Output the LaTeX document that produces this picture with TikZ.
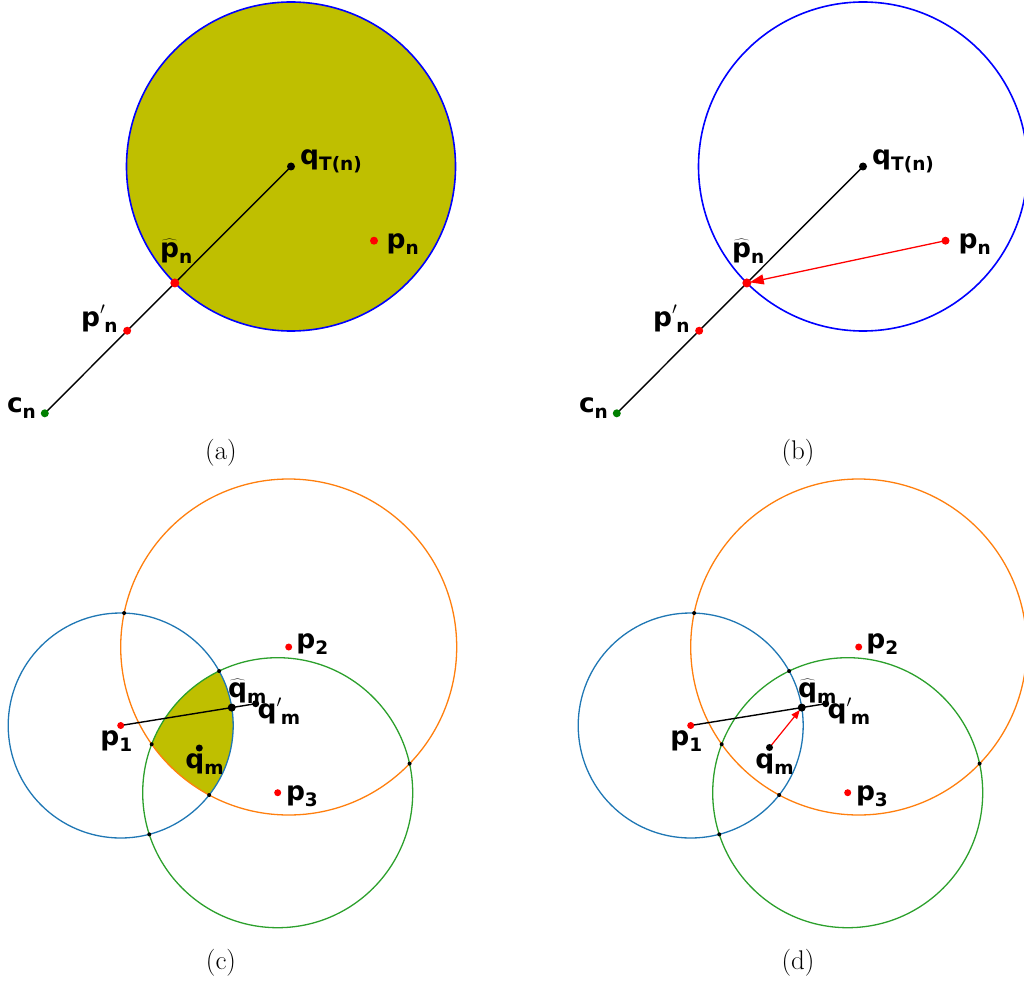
\documentclass[tikz,border=0pt]{standalone}
\usepackage{fontspec}
\newfontfamily\lbl{DejaVu Sans}
\usetikzlibrary{arrows.meta,calc,intersections}
\definecolor{olivey}{RGB}{191,191,0}
\definecolor{tabblue}{HTML}{1F77B4}
\definecolor{taborange}{HTML}{FF7F0E}
\definecolor{tabgreen}{HTML}{2CA02C}
\definecolor{dkgreen}{RGB}{0,128,0}
\newcommand{\lsub}[1]{\raisebox{-6pt}{\fontsize{18.5}{18.5}\selectfont #1}}
\newcommand{\lprime}{\raisebox{2pt}{$^{\prime}$}\kern-1pt}
\newcommand{\lhat}[1]{$\widehat{\mbox{#1}}$}
\tikzset{
  lab/.style={font={\lbl\bfseries\fontsize{26.5}{27}\selectfont}, inner sep=0pt, anchor=base west},
  captxt/.style={font={\fontsize{27}{32}\selectfont}, inner sep=0pt},
  ptdot/.style={circle, inner sep=0pt, minimum size=#1, draw=none},
  ptdot/.default=8pt,
  segline/.style={black, line width=1.4pt},
  tinydot/.style={circle, inner sep=0pt, minimum size=4pt, fill=black},
}
\begin{document}
\begin{tikzpicture}[x=1pt,y=-1pt]
\useasboundingbox (0,0) rectangle (1024,984);
% ---------- (a) ----------
\coordinate (qa) at (291,166.5);
\coordinate (ca) at (44.8,413.3);
\coordinate (hpa) at ($(qa)!164.5pt!(ca)$);
\coordinate (ppa) at ($(qa)!232pt!(ca)$);
\coordinate (pna) at (374,240.7);
\fill[olivey] (qa) circle[radius=164.5];
\draw[blue, line width=1.6pt] (qa) circle[radius=164.5];
\draw[segline] (ca) -- (qa);
\node[ptdot=8pt, fill=black] (qad) at (qa) {};
\node[ptdot=9pt, fill=red] (hpad) at (hpa) {};
\node[ptdot=8pt, fill=red] (ppad) at (ppa) {};
\node[ptdot=8pt, fill=red] (pnad) at (pna) {};
\node[ptdot=8pt, fill=dkgreen] (cad) at (ca) {};
\node[lab] (lqa) at (300,165) {q\lsub{T(n)}};
\node[lab] (lpna) at (386.5,248.5) {p\lsub{n}};
\node[lab] (lhpa) at (160,257.5) {\lhat{p}\lsub{n}};
\node[lab] (lppa) at (81,326) {p\lprime\lsub{n}};
\node[lab] (lca) at (6.8,412.5) {c\lsub{n}};
\node[captxt] (capa) at (221,453) {(a)};
% ---------- (b) ----------
\coordinate (qb) at (863,166.5);
\coordinate (cb) at (616.8,413.3);
\coordinate (hpb) at ($(qb)!164.5pt!(cb)$);
\coordinate (ppb) at ($(qb)!232pt!(cb)$);
\coordinate (pnb) at (945.5,240.7);
\draw[blue, line width=1.6pt] (qb) circle[radius=164.5];
\draw[segline] (cb) -- (qb);
\draw[red, line width=1.3pt, -{Triangle[length=14pt,width=10pt]}, shorten >=3pt] (pnb) -- (hpb);
\node[ptdot=8pt, fill=black] (qbd) at (qb) {};
\node[ptdot=9pt, fill=red] (hpbd) at (hpb) {};
\node[ptdot=8pt, fill=red] (ppbd) at (ppb) {};
\node[ptdot=8pt, fill=red] (pnbd) at (pnb) {};
\node[ptdot=8pt, fill=dkgreen] (cbd) at (cb) {};
\node[lab] (lqb) at (872,165) {q\lsub{T(n)}};
\node[lab] (lpnb) at (958.5,248.5) {p\lsub{n}};
\node[lab] (lhpb) at (732,257.5) {\lhat{p}\lsub{n}};
\node[lab] (lppb) at (653,326) {p\lprime\lsub{n}};
\node[lab] (lcb) at (578.8,412.5) {c\lsub{n}};
\node[captxt] (capb) at (798,453) {(b)};
% ---------- (c) ----------
\coordinate (p1c) at (120.7,725.5);
\coordinate (p2c) at (288.7,647);
\coordinate (p3c) at (277.7,792.7);
\coordinate (qpc) at (255.7,703.7);
\coordinate (hqc) at ($(p1c)!112.5pt!(qpc)$);
\coordinate (qmc) at (199.3,748);
\begin{scope}
  \clip (p1c) circle[radius=112.5];
  \clip (p2c) circle[radius=168];
  \fill[olivey] (p3c) circle[radius=135];
\end{scope}
\draw[tabblue, line width=1.3pt, name path=bc] (p1c) circle[radius=112.5];
\draw[taborange, line width=1.3pt, name path=oc] (p2c) circle[radius=168];
\draw[tabgreen, line width=1.3pt, name path=gc] (p3c) circle[radius=135];
\path[name intersections={of=bc and oc, by={ic1,ic2}}];
\path[name intersections={of=bc and gc, by={ic3,ic4}}];
\path[name intersections={of=oc and gc, by={ic5,ic6}}];
\foreach \i in {1,...,6} {\node[tinydot] (icd\i) at (ic\i) {};}
\draw[segline] (p1c) -- (qpc);
\node[ptdot=7pt, fill=red] (p1cd) at (p1c) {};
\node[ptdot=7pt, fill=red] (p2cd) at (p2c) {};
\node[ptdot=7pt, fill=red] (p3cd) at (p3c) {};
\node[ptdot=8pt, fill=black] (hqcd) at (hqc) {};
\node[ptdot=7pt, fill=black] (qpcd) at (qpc) {};
\node[ptdot=7pt, fill=black] (qmcd) at (qmc) {};
\node[lab] (lp1c) at (100.2,745.5) {p\lsub{1}};
\node[lab] (lp2c) at (296.2,648.5) {p\lsub{2}};
\node[lab] (lp3c) at (285.8,800.5) {p\lsub{3}};
\node[lab] (lhqc) at (228,697.5) {\lhat{q}\lsub{m}};
\node[lab] (lqpc) at (257.5,718.5) {q\lprime\lsub{m}};
\node[lab] (lqmc) at (185.2,768.5) {q\lsub{m}};
\node[captxt] (capc) at (221,963) {(c)};
% ---------- (d) ----------
\coordinate (p1d) at (690.7,725.5);
\coordinate (p2d) at (858.7,647);
\coordinate (p3d) at (847.7,792.7);
\coordinate (qpd) at (825.7,703.7);
\coordinate (hqd) at ($(p1d)!112.5pt!(qpd)$);
\coordinate (qmd) at (769.5,747.5);
\draw[tabblue, line width=1.3pt, name path=bd] (p1d) circle[radius=112.5];
\draw[taborange, line width=1.3pt, name path=od] (p2d) circle[radius=168];
\draw[tabgreen, line width=1.3pt, name path=gd] (p3d) circle[radius=135];
\path[name intersections={of=bd and od, by={id1,id2}}];
\path[name intersections={of=bd and gd, by={id3,id4}}];
\path[name intersections={of=od and gd, by={id5,id6}}];
\foreach \i in {1,...,6} {\node[tinydot] (idd\i) at (id\i) {};}
\draw[segline] (p1d) -- (qpd);
\draw[red, line width=1.2pt, -{Triangle[length=9pt,width=7pt]}, shorten >=3pt] (qmd) -- (hqd);
\node[ptdot=7pt, fill=red] (p1dd) at (p1d) {};
\node[ptdot=7pt, fill=red] (p2dd) at (p2d) {};
\node[ptdot=7pt, fill=red] (p3dd) at (p3d) {};
\node[ptdot=8pt, fill=black] (hqdd) at (hqd) {};
\node[ptdot=7pt, fill=black] (qpdd) at (qpd) {};
\node[ptdot=7pt, fill=black] (qmdd) at (qmd) {};
\node[lab] (lp1d) at (670.2,745.5) {p\lsub{1}};
\node[lab] (lp2d) at (866.2,648.5) {p\lsub{2}};
\node[lab] (lp3d) at (855.8,800.5) {p\lsub{3}};
\node[lab] (lhqd) at (798,697.5) {\lhat{q}\lsub{m}};
\node[lab] (lqpd) at (827.5,718.5) {q\lprime\lsub{m}};
\node[lab] (lqmd) at (755.2,768.5) {q\lsub{m}};
\node[captxt] (capd) at (798,963) {(d)};
\end{tikzpicture}
\end{document}
